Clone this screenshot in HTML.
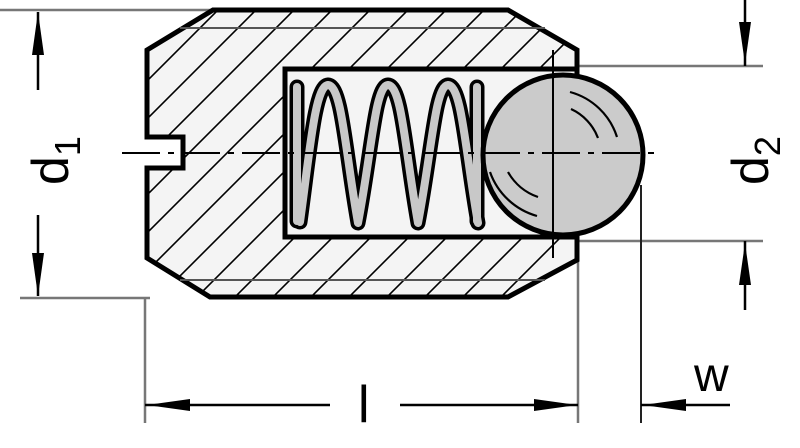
<!DOCTYPE html>
<html><head><meta charset="utf-8"><style>html,body{margin:0;padding:0;background:#fff}svg{display:block}</style></head>
<body>
<svg width="800" height="448" viewBox="0 0 800 448" xmlns="http://www.w3.org/2000/svg">
<defs>
<pattern id="h" patternUnits="userSpaceOnUse" width="38" height="38">
<rect width="38" height="38" fill="#f4f4f4"/>
<path d="M-2,40 L40,-2 M-2,2 L2,-2 M36,40 L40,36" stroke="#000" stroke-width="1.6"/>
</pattern>
</defs>
<g stroke="#777" stroke-width="2.5" fill="none">
<line x1="0" y1="10" x2="212" y2="10"/>
<line x1="20" y1="298" x2="150" y2="298"/>
<line x1="145" y1="298" x2="145" y2="423"/>
<line x1="578" y1="258" x2="578" y2="423"/>
<line x1="577" y1="66" x2="763" y2="66"/>
<line x1="577" y1="241" x2="763" y2="241"/>
</g>
<line x1="641" y1="185" x2="641" y2="423" stroke="#222" stroke-width="2"/>
<path d="M213,10 L508,10 L577,50 L577,260 L508,297 L210,297 L147,258 L147,168 L183,168 L183,137 L147,137 L147,50 Z" fill="url(#h)" stroke="#000" stroke-width="5"/>
<line x1="180" y1="28" x2="545" y2="28" stroke="#555" stroke-width="2"/>
<line x1="180" y1="280" x2="545" y2="280" stroke="#555" stroke-width="2"/>
<rect x="285" y="69" width="292" height="168" fill="#f4f4f4" stroke="#000" stroke-width="5"/>
<g fill="none" stroke-linecap="round" stroke-linejoin="round" stroke="#000" stroke-width="15">
<path d="M297,87 L297,221"/>
<path d="M300,222 C310,150 315,86 328,85 C342,86 345,150 358,223 C372,150 375,86 388,85 C402,86 405,150 418,223 C432,150 435,86 448,85 C462,86 465,150 478,223"/>
<path d="M477,87 L477,221"/>
</g>
<g fill="none" stroke-linecap="round" stroke-linejoin="round" stroke="#c8c8c8" stroke-width="8">
<path d="M297,87 L297,221"/>
<path d="M300,222 C310,150 315,86 328,85 C342,86 345,150 358,223 C372,150 375,86 388,85 C402,86 405,150 418,223 C432,150 435,86 448,85 C462,86 465,150 478,223"/>
<path d="M477,87 L477,221"/>
</g>
<circle cx="563" cy="155" r="80" fill="#cbcbcb" stroke="#000" stroke-width="5"/>
<g fill="none" stroke="#000" stroke-width="2.2">
<path d="M570,92 A68,68 0 0 1 617,137"/>
<path d="M571,109 A52,52 0 0 1 598,138"/>
<path d="M490,172 A70,70 0 0 0 537,216"/>
<path d="M508,172 A55,55 0 0 0 538,197"/>
</g>
<line x1="122" y1="153" x2="657" y2="153" stroke="#000" stroke-width="2" stroke-dasharray="38,8,6,8"/>
<line x1="553" y1="50" x2="553" y2="258" stroke="#000" stroke-width="2"/>
<g stroke="#000" stroke-width="2.5">
<line x1="38" y1="12" x2="38" y2="90"/>
<line x1="38" y1="215" x2="38" y2="296"/>
<line x1="145" y1="405" x2="330" y2="405"/>
<line x1="400" y1="405" x2="578" y2="405"/>
<line x1="745" y1="0" x2="745" y2="66"/>
<line x1="745" y1="241" x2="745" y2="310"/>
<line x1="641" y1="405" x2="730" y2="405"/>
</g>
<g fill="#000">
<polygon points="38,12 32,55 44,55"/>
<polygon points="38,296 32,253 44,253"/>
<polygon points="147,405 190,399 190,411"/>
<polygon points="577,405 534,399 534,411"/>
<polygon points="745,64 739,22 751,22"/>
<polygon points="745,243 739,285 751,285"/>
<polygon points="643,405 686,399 686,411"/>
</g>
<g font-family="Liberation Sans, sans-serif" fill="#000">
<text transform="translate(68,185) rotate(-90)" font-size="52">d<tspan font-size="36" dy="12">1</tspan></text>
<text transform="translate(768,185) rotate(-90)" font-size="52">d<tspan font-size="36" dy="12">2</tspan></text>
<text x="358" y="422" font-size="52">l</text>
<text x="694" y="391" font-size="48">w</text>
</g>
</svg>
</body></html>
